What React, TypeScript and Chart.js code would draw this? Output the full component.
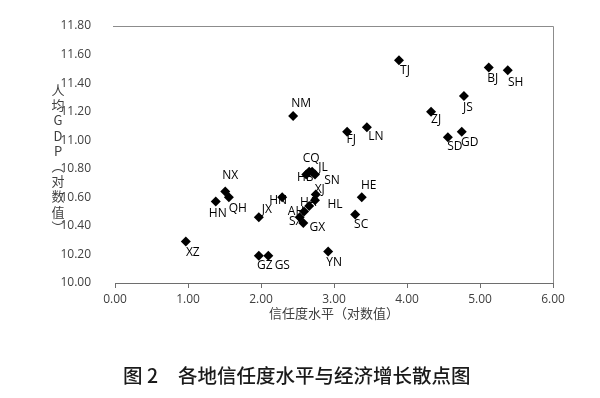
import React, { useEffect, useRef } from "react";
import { Chart, registerables } from "chart.js";

Chart.register(...registerables);

// Region codes
const regions = ["TJ", "BJ", "SH", "JS", "ZJ", "SD", "GD", "LN", "FJ", "NM", "CQ", "JL", "HB", "SN", "XJ", "HL", "HA", "AH", "SX", "GX", "HE", "SC", "YN", "GZ", "GS", "XZ", "JX", "HN", "NX", "QH", "HN"];
// Trust level (log)
const trust = [3.89, 5.12, 5.38, 4.78, 4.33, 4.56, 4.75, 3.45, 3.18, 2.44, 2.66, 2.70, 2.62, 2.74, 2.75, 2.74, 2.66, 2.59, 2.53, 2.58, 3.38, 3.29, 2.92, 1.97, 2.10, 0.97, 1.97, 2.29, 1.51, 1.56, 1.38];
// GDP per capita (log)
const gdp = [11.56, 11.51, 11.49, 11.31, 11.20, 11.02, 11.06, 11.09, 11.06, 11.17, 10.78, 10.78, 10.76, 10.76, 10.62, 10.58, 10.54, 10.50, 10.46, 10.42, 10.60, 10.48, 10.22, 10.19, 10.19, 10.29, 10.46, 10.60, 10.64, 10.60, 10.57];

const xTitle = "信任度水平（对数值）";
const yTitleChars = ["人", "均", "G", "D", "P", "︵", "对", "数", "值", "︶"];
const captionNum = "图 2";
const captionText = "各地信任度水平与经济增长散点图";

// label offsets (style only), relative to each marker
const labelOffsets: [number, number][] = [
  [6, 10], [4, 11], [8, 12], [4, 12], [5, 8], [7, 9], [8, 11], [9, 9], [4, 8], [8, -12],
  [2, -13], [11, -4], [-1, 3], [17, 6], [4, -5], [20, 4], [-1, -3], [-8, 0], [-4, 4], [14, 5],
  [7, -12], [6, 10], [6, 11], [6, 10], [14, 10], [7, 11], [8, -8], [-4, 3], [5, -16], [9, 11], [2, 12],
];

const pointLabelPlugin = {
  id: "pointLabels",
  afterDatasetsDraw(chart: any) {
    const { ctx } = chart;
    const meta = chart.getDatasetMeta(0);
    ctx.save();
    ctx.font = '12px "Open Sans"';
    ctx.fillStyle = "#000";
    ctx.textAlign = "center";
    ctx.textBaseline = "middle";
    meta.data.forEach((pt: any, i: number) => {
      const [dx, dy] = labelOffsets[i];
      ctx.fillText(regions[i], pt.x + dx, pt.y + dy);
    });
    ctx.restore();
  },
};

const framePlugin = {
  id: "frame",
  afterDraw(chart: any) {
    const { ctx, chartArea } = chart;
    const { left, right, top, bottom } = chartArea;
    ctx.save();
    ctx.strokeStyle = "#8c8c8c";
    ctx.lineWidth = 1;
    ctx.beginPath();
    ctx.moveTo(left - 2, Math.round(top) + 0.5);
    ctx.lineTo(Math.round(right) + 0.5, Math.round(top) + 0.5);
    ctx.lineTo(Math.round(right) + 0.5, bottom);
    ctx.stroke();

    // vertical y-axis title
    ctx.fillStyle = "#404040";
    ctx.font = '13px "Noto Sans CJK SC"';
    ctx.textAlign = "center";
    ctx.textBaseline = "middle";
    const startY = 90;
    const step = 15.2;
    yTitleChars.forEach((c, i) => {
      ctx.fillText(c, 58, startY + i * step);
    });

    // caption
    ctx.fillStyle = "#1a1a1a";
    ctx.font = '500 19.5px "Noto Sans CJK SC"';
    ctx.textAlign = "left";
    ctx.fillText(captionNum, 123, 376);
    ctx.fillText(captionText, 178, 376);
    ctx.restore();
  },
};

export default function App() {
  const ref = useRef<HTMLCanvasElement>(null);
  useEffect(() => {
    document.body.style.margin = "0";
    const canvas = ref.current!;
    const chart = new Chart(canvas, {
      type: "scatter",
      data: {
        datasets: [
          {
            data: trust.map((x, i) => ({ x, y: gdp[i] })),
            pointStyle: "rectRot",
            pointRadius: 5,
            pointBackgroundColor: "#000",
            pointBorderColor: "#000",
            pointBorderWidth: 0,
          },
        ],
      },
      options: {
        responsive: false,
        animation: false,
        devicePixelRatio: 1,
        layout: { padding: { top: 26, right: 47, left: 0, bottom: 0 } },
        plugins: { legend: { display: false }, tooltip: { enabled: false } },
        scales: {
          x: {
            type: "linear",
            min: 0,
            max: 6,
            ticks: {
              stepSize: 1,
              padding: 4,
              color: "#404040",
              font: { family: "Open Sans", size: 12 },
              callback: (v: any) => Number(v).toFixed(2),
            },
            grid: { drawOnChartArea: false, tickLength: 5, color: "#6e6e6e" },
            border: { display: true, color: "#6e6e6e" },
            title: {
              display: true,
              text: xTitle,
              color: "#404040",
              font: { family: "Noto Sans CJK SC", size: 13 },
              padding: { top: 0, bottom: 77 },
            },
            afterFit: (s: any) => {
              s.height = 115;
            },
          },
          y: {
            type: "linear",
            min: 10,
            max: 11.8,
            ticks: {
              stepSize: 0.2,
              padding: 16,
              color: "#404040",
              font: { family: "Open Sans", size: 12 },
              callback: (v: any) => Number(v).toFixed(2),
            },
            grid: { display: false },
            border: { display: false },
            afterFit: (s: any) => {
              s.width = 115;
            },
          },
        },
      },
      plugins: [pointLabelPlugin, framePlugin],
    });
    return () => chart.destroy();
  }, []);
  return (
    <div style={{ width: 600, height: 398, background: "#fff" }}>
      <canvas ref={ref} width={600} height={398} style={{ width: 600, height: 398, display: "block" }} />
    </div>
  );
}
